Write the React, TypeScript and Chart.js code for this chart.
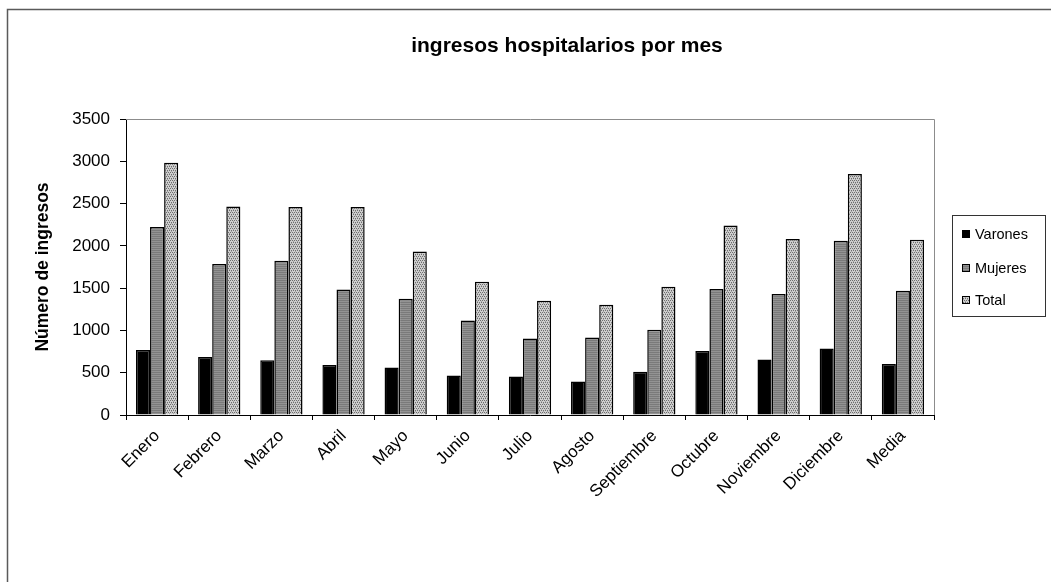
import React, { useEffect, useRef } from "react";
import { Chart, registerables } from "chart.js";

Chart.register(...registerables);

const months = [
  "Enero", "Febrero", "Marzo", "Abril", "Mayo", "Junio", "Julio",
  "Agosto", "Septiembre", "Octubre", "Noviembre", "Diciembre", "Media",
];
const varones = [768, 686, 646, 591, 563, 468, 456, 397, 512, 757, 657, 787, 603];
const mujeres = [2223, 1785, 1824, 1485, 1375, 1118, 905, 917, 1008, 1489, 1430, 2060, 1469];
const total = [2983, 2466, 2459, 2459, 1934, 1576, 1351, 1304, 1517, 2241, 2080, 2849, 2072];
const seriesNames = ["Varones", "Mujeres", "Total"];
const yTicks = [0, 500, 1000, 1500, 2000, 2500, 3000, 3500];

const FONT = "'Liberation Sans', Arial, sans-serif";

function stripePattern(): CanvasPattern | string {
  const c = document.createElement("canvas");
  c.width = 2;
  c.height = 2;
  const g = c.getContext("2d");
  if (!g) return "#848484";
  g.fillStyle = "#7a7a7a";
  g.fillRect(0, 0, 2, 1);
  g.fillStyle = "#939393";
  g.fillRect(0, 1, 2, 1);
  return g.createPattern(c, "repeat") || "#848484";
}

function dotPattern(): CanvasPattern | string {
  const c = document.createElement("canvas");
  c.width = 4;
  c.height = 4;
  const g = c.getContext("2d");
  if (!g) return "#c0c0c0";
  g.fillStyle = "#cfcfcf";
  g.fillRect(0, 0, 4, 4);
  g.fillStyle = "#6e6e6e";
  g.fillRect(0, 0, 1, 1);
  g.fillRect(2, 0, 1, 1);
  g.fillRect(1, 2, 1, 1);
  g.fillRect(3, 2, 1, 1);
  g.fillStyle = "#a4a4a4";
  g.fillRect(1, 1, 1, 1);
  g.fillRect(3, 3, 1, 1);
  return g.createPattern(c, "repeat") || "#c0c0c0";
}

// Frame, plot border, title and boxed legend drawn on top of the chart.
const decorations = {
  id: "decorations",
  afterDraw(chart: any) {
    const { ctx, chartArea } = chart;
    ctx.save();

    // outer frame
    ctx.strokeStyle = "#5a5a5a";
    ctx.lineWidth = 1.5;
    ctx.strokeRect(7.5, 9.5, 1100, 700);

    // grey top and right plot edges
    ctx.strokeStyle = "#8c8c8c";
    ctx.lineWidth = 1;
    ctx.beginPath();
    ctx.moveTo(chartArea.left, Math.round(chartArea.top) + 0.5);
    ctx.lineTo(Math.round(chartArea.right) + 0.5, Math.round(chartArea.top) + 0.5);
    ctx.lineTo(Math.round(chartArea.right) + 0.5, chartArea.bottom);
    ctx.stroke();

    // title
    ctx.fillStyle = "#000";
    ctx.font = `bold 21px ${FONT}`;
    ctx.textAlign = "center";
    ctx.textBaseline = "alphabetic";
    ctx.fillText("ingresos hospitalarios por mes", 567, 52);

    // legend
    ctx.strokeStyle = "#333";
    ctx.lineWidth = 1;
    ctx.strokeRect(952.5, 215.5, 93, 101);
    ctx.font = `14.5px ${FONT}`;
    ctx.textAlign = "left";
    ctx.textBaseline = "middle";
    const rows = [234, 268, 300];
    chart.data.datasets.forEach((ds: any, i: number) => {
      const y = rows[i];
      ctx.fillStyle = ds.backgroundColor;
      ctx.fillRect(962, y - 4, 8, 8);
      ctx.strokeStyle = "#000";
      ctx.strokeRect(962.5, y - 3.5, 7, 7);
      ctx.fillStyle = "#000";
      ctx.fillText(seriesNames[i], 975, y + 1);
    });

    ctx.restore();
  },
};

export default function App() {
  const canvasRef = useRef<HTMLCanvasElement | null>(null);

  useEffect(() => {
    const canvas = canvasRef.current;
    if (!canvas) return;
    const chart = new Chart(canvas, {
      type: "bar",
      data: {
        labels: months,
        datasets: [
          {
            label: seriesNames[0],
            data: varones,
            backgroundColor: "#000000",
            borderColor: "#000000",
            borderWidth: 1.5,
          },
          {
            label: seriesNames[1],
            data: mujeres,
            backgroundColor: stripePattern() as any,
            borderColor: "#000000",
            borderWidth: 1.5,
          },
          {
            label: seriesNames[2],
            data: total,
            backgroundColor: dotPattern() as any,
            borderColor: "#000000",
            borderWidth: 1.5,
          },
        ],
      },
      options: {
        animation: false,
        responsive: true,
        maintainAspectRatio: false,
        events: [],
        layout: { padding: { left: 30, top: 119, right: 117, bottom: 0 } },
        datasets: {
          bar: { categoryPercentage: 0.68, barPercentage: 1 },
        },
        plugins: {
          legend: { display: false },
          title: { display: false },
          tooltip: { enabled: false },
        },
        scales: {
          x: {
            grid: {
              drawOnChartArea: false,
              drawTicks: true,
              tickLength: 5,
              color: "#000",
              offset: true,
            },
            border: { color: "#000", width: 1 },
            ticks: {
              color: "#000",
              font: { family: FONT, size: 17 },
              minRotation: 45,
              maxRotation: 45,
              autoSkip: false,
              padding: 6,
            },
            afterFit: (s: any) => {
              s.height = 167;
            },
          },
          y: {
            min: yTicks[0],
            max: yTicks[yTicks.length - 1],
            afterBuildTicks: (s: any) => {
              s.ticks = yTicks.map((v) => ({ value: v }));
            },
            grid: {
              drawOnChartArea: false,
              drawTicks: true,
              tickLength: 6,
              color: "#000",
            },
            border: { color: "#000", width: 1 },
            ticks: {
              color: "#000",
              font: { family: FONT, size: 17 },
              padding: 10,
              callback: (v: any) => String(v),
            },
            title: {
              display: true,
              text: "Número de ingresos",
              color: "#000",
              font: { family: FONT, size: 17.5, weight: "bold" },
              padding: { top: 3, bottom: 0 },
            },
            afterFit: (s: any) => {
              s.width = 96;
            },
          },
        },
      },
      plugins: [decorations],
    });
    return () => chart.destroy();
  }, []);

  return (
    <div
      style={{
        position: "fixed",
        left: 0,
        top: 0,
        width: 1051,
        height: 582,
        background: "#fff",
      }}
    >
      <canvas ref={canvasRef} />
    </div>
  );
}
